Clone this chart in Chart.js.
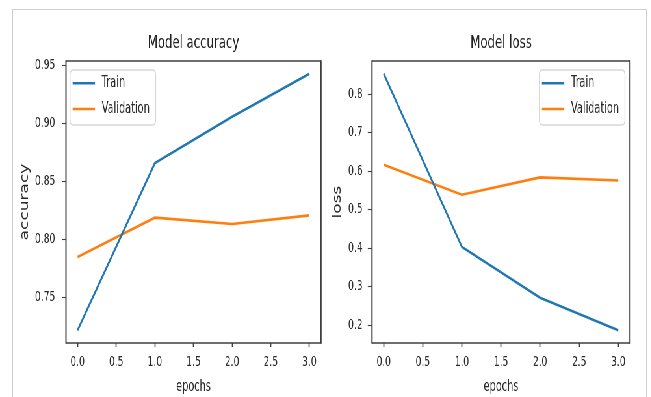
<!DOCTYPE html>
<html>
<head>
<meta charset="utf-8">
<script src="https://cdn.jsdelivr.net/npm/chart.js@4/dist/chart.umd.min.js"></script>
<style>
  html, body { margin:0; padding:0; background:#fff; width:651px; height:397px; overflow:hidden; }
  #frame { position:absolute; left:12px; top:9px; width:635px; height:400px; box-sizing:border-box;
           border:1.6px solid #cfcfcf; border-bottom:none; }
  #stage { position:absolute; left:0; top:0; width:1002px; height:397px; transform:scaleX(0.65); transform-origin:0 0; }
  #accBox { position:absolute; left:0; top:0; width:500px; height:397px; }
  #lossBox { position:absolute; left:500px; top:0; width:502px; height:397px; }
  canvas { display:block; }
</style>
</head>
<body>
<div id="frame"></div>
<div id="stage">
  <div id="accBox"><canvas id="acc" width="500" height="397"></canvas></div>
  <div id="lossBox"><canvas id="loss" width="502" height="397"></canvas></div>
</div>
<script>
// ---- data ----
const epochs = [0, 1, 2, 3];
const trainAcc = [0.722, 0.866, 0.906, 0.943];
const valAcc = [0.785, 0.819, 0.8135, 0.821];
const trainLoss = [0.853, 0.403, 0.2715, 0.187];
const valLoss = [0.617, 0.539, 0.584, 0.576];
const xTicks = [0, 0.5, 1, 1.5, 2, 2.5, 3];
const accTicks = [0.75, 0.80, 0.85, 0.90, 0.95];
const lossTicks = [0.2, 0.3, 0.4, 0.5, 0.6, 0.7, 0.8];
const seriesNames = ['Train', 'Validation'];
const titles = ['Model accuracy', 'Model loss'];
const xLabel = 'epochs';
const yLabels = ['accuracy', 'loss'];

// ---- styling ----
const FONT = '"DejaVu Sans", "Liberation Sans", sans-serif';
Chart.defaults.font.family = FONT;
Chart.defaults.color = '#2a2a2a';
const BLUE = '#1f77b4', ORANGE = '#ff7f0e', SPINE = '#3f3f3f';

function padRange(arrs) {
  const all = [].concat(...arrs);
  const lo = Math.min(...all), hi = Math.max(...all), m = (hi - lo) * 0.05;
  return [lo - m, hi + m];
}
const xr = padRange([epochs]);

const spinePlugin = {
  id: 'spines',
  afterDraw(chart) {
    const {ctx, chartArea: a} = chart;
    ctx.save();
    ctx.strokeStyle = SPINE;
    ctx.lineWidth = 1.3;
    ctx.beginPath();
    ctx.moveTo(a.left, a.top); ctx.lineTo(a.right, a.top);
    ctx.moveTo(a.left, a.bottom); ctx.lineTo(a.right, a.bottom);
    ctx.stroke();
    ctx.lineWidth = 2;
    ctx.beginPath();
    ctx.moveTo(a.left, a.top - 0.65); ctx.lineTo(a.left, a.bottom + 0.65);
    ctx.moveTo(a.right, a.top - 0.65); ctx.lineTo(a.right, a.bottom + 0.65);
    ctx.stroke();
    ctx.restore();
  }
};

const boxLegendPlugin = {
  id: 'boxLegend',
  afterDraw(chart, args, o) {
    const {ctx, chartArea: a} = chart;
    const ds = chart.data.datasets;
    ctx.save();
    ctx.font = '15px ' + FONT;
    const textW = Math.max(...ds.map(d => ctx.measureText(d.label).width));
    const w = 4 + 34.4 + 10.3 + textW + 9;
    const h = 55;
    const x = o.align === 'left' ? a.left + 6.2 : a.right - 7.7 - w;
    const y = a.top + 9;
    const r = 5;
    ctx.beginPath();
    ctx.moveTo(x + r, y); ctx.lineTo(x + w - r, y); ctx.quadraticCurveTo(x + w, y, x + w, y + r);
    ctx.lineTo(x + w, y + h - r); ctx.quadraticCurveTo(x + w, y + h, x + w - r, y + h);
    ctx.lineTo(x + r, y + h); ctx.quadraticCurveTo(x, y + h, x, y + h - r);
    ctx.lineTo(x, y + r); ctx.quadraticCurveTo(x, y, x + r, y);
    ctx.closePath();
    ctx.fillStyle = 'rgba(255,255,255,0.85)';
    ctx.fill();
    ctx.strokeStyle = '#d8d8d8';
    ctx.lineWidth = 1.4;
    ctx.stroke();
    ds.forEach((d, i) => {
      const cy = y + 13.3 + i * 25.7;
      ctx.strokeStyle = d.borderColor;
      ctx.lineWidth = 2.6;
      ctx.beginPath();
      ctx.moveTo(x + 4, cy); ctx.lineTo(x + 38.4, cy);
      ctx.stroke();
      ctx.fillStyle = '#2a2a2a';
      ctx.textBaseline = 'middle';
      ctx.textAlign = 'left';
      ctx.fillText(d.label, x + 48.7, cy);
    });
    ctx.restore();
  }
};

function makeChart(id, cfg) {
  const yr = padRange([cfg.train, cfg.val]);
  return new Chart(document.getElementById(id), {
    type: 'line',
    data: {
      datasets: [
        { label: seriesNames[0], data: epochs.map((e, i) => ({x: e, y: cfg.train[i]})),
          borderColor: BLUE, backgroundColor: BLUE, borderWidth: 2.6, pointRadius: 0, tension: 0 },
        { label: seriesNames[1], data: epochs.map((e, i) => ({x: e, y: cfg.val[i]})),
          borderColor: ORANGE, backgroundColor: ORANGE, borderWidth: 2.6, pointRadius: 0, tension: 0 }
      ]
    },
    options: {
      responsive: false,
      animation: false,
      events: [],
      layout: { padding: { left: 0, right: cfg.padRight, top: 0, bottom: 0 } },
      plugins: {
        legend: { display: false },
        tooltip: { enabled: false },
        title: { display: true, text: cfg.title, fullSize: false, color: '#222',
                 font: { size: 18, weight: 'normal' }, padding: { top: 32.2, bottom: 7.2 } },
        boxLegend: { align: cfg.legendAlign }
      },
      scales: {
        x: {
          type: 'linear', min: xr[0], max: xr[1],
          afterBuildTicks: s => { s.ticks = xTicks.map(v => ({value: v})); },
          afterFit: s => { s.height = 54; },
          ticks: { callback: v => Number(v).toFixed(1), font: { size: 14 }, padding: 7,
                   maxRotation: 0, autoSkip: false, color: '#2a2a2a' },
          grid: { display: true, drawOnChartArea: false, drawTicks: true, tickLength: 4,
                  tickWidth: 1.7, color: SPINE },
          border: { display: false },
          title: { display: true, text: xLabel, font: { size: 15 }, color: '#2a2a2a',
                   padding: { top: 0, bottom: 1 } }
        },
        y: {
          type: 'linear', min: yr[0], max: yr[1],
          afterBuildTicks: s => { s.ticks = cfg.yTicks.map(v => ({value: v})); },
          afterFit: s => { s.width = cfg.yWidth; },
          ticks: { callback: v => Number(v).toFixed(cfg.dec), font: { size: 14 }, padding: cfg.tickPad,
                   autoSkip: false, color: '#2a2a2a' },
          grid: { display: true, drawOnChartArea: false, drawTicks: true, tickLength: 6.5,
                  tickWidth: 1.1, color: SPINE },
          border: { display: false },
          title: { display: true, text: cfg.yLabel, font: { size: 17 }, color: '#2a2a2a',
                   padding: { top: cfg.yTitlePad, bottom: 0 } }
        }
      }
    },
    plugins: [spinePlugin, boxLegendPlugin]
  });
}

makeChart('acc', { train: trainAcc, val: valAcc, title: titles[0], yLabel: yLabels[0],
  yTicks: accTicks, dec: 2, yWidth: 101.5, padRight: 6.2, tickPad: 10, yTitlePad: 28.3, legendAlign: 'left' });
makeChart('loss', { train: trainLoss, val: valLoss, title: titles[1], yLabel: yLabels[1],
  yTicks: lossTicks, dec: 1, yWidth: 72.3, padRight: 32.8, tickPad: 8, yTitlePad: 9.8, legendAlign: 'right' });
</script>
</body>
</html>
